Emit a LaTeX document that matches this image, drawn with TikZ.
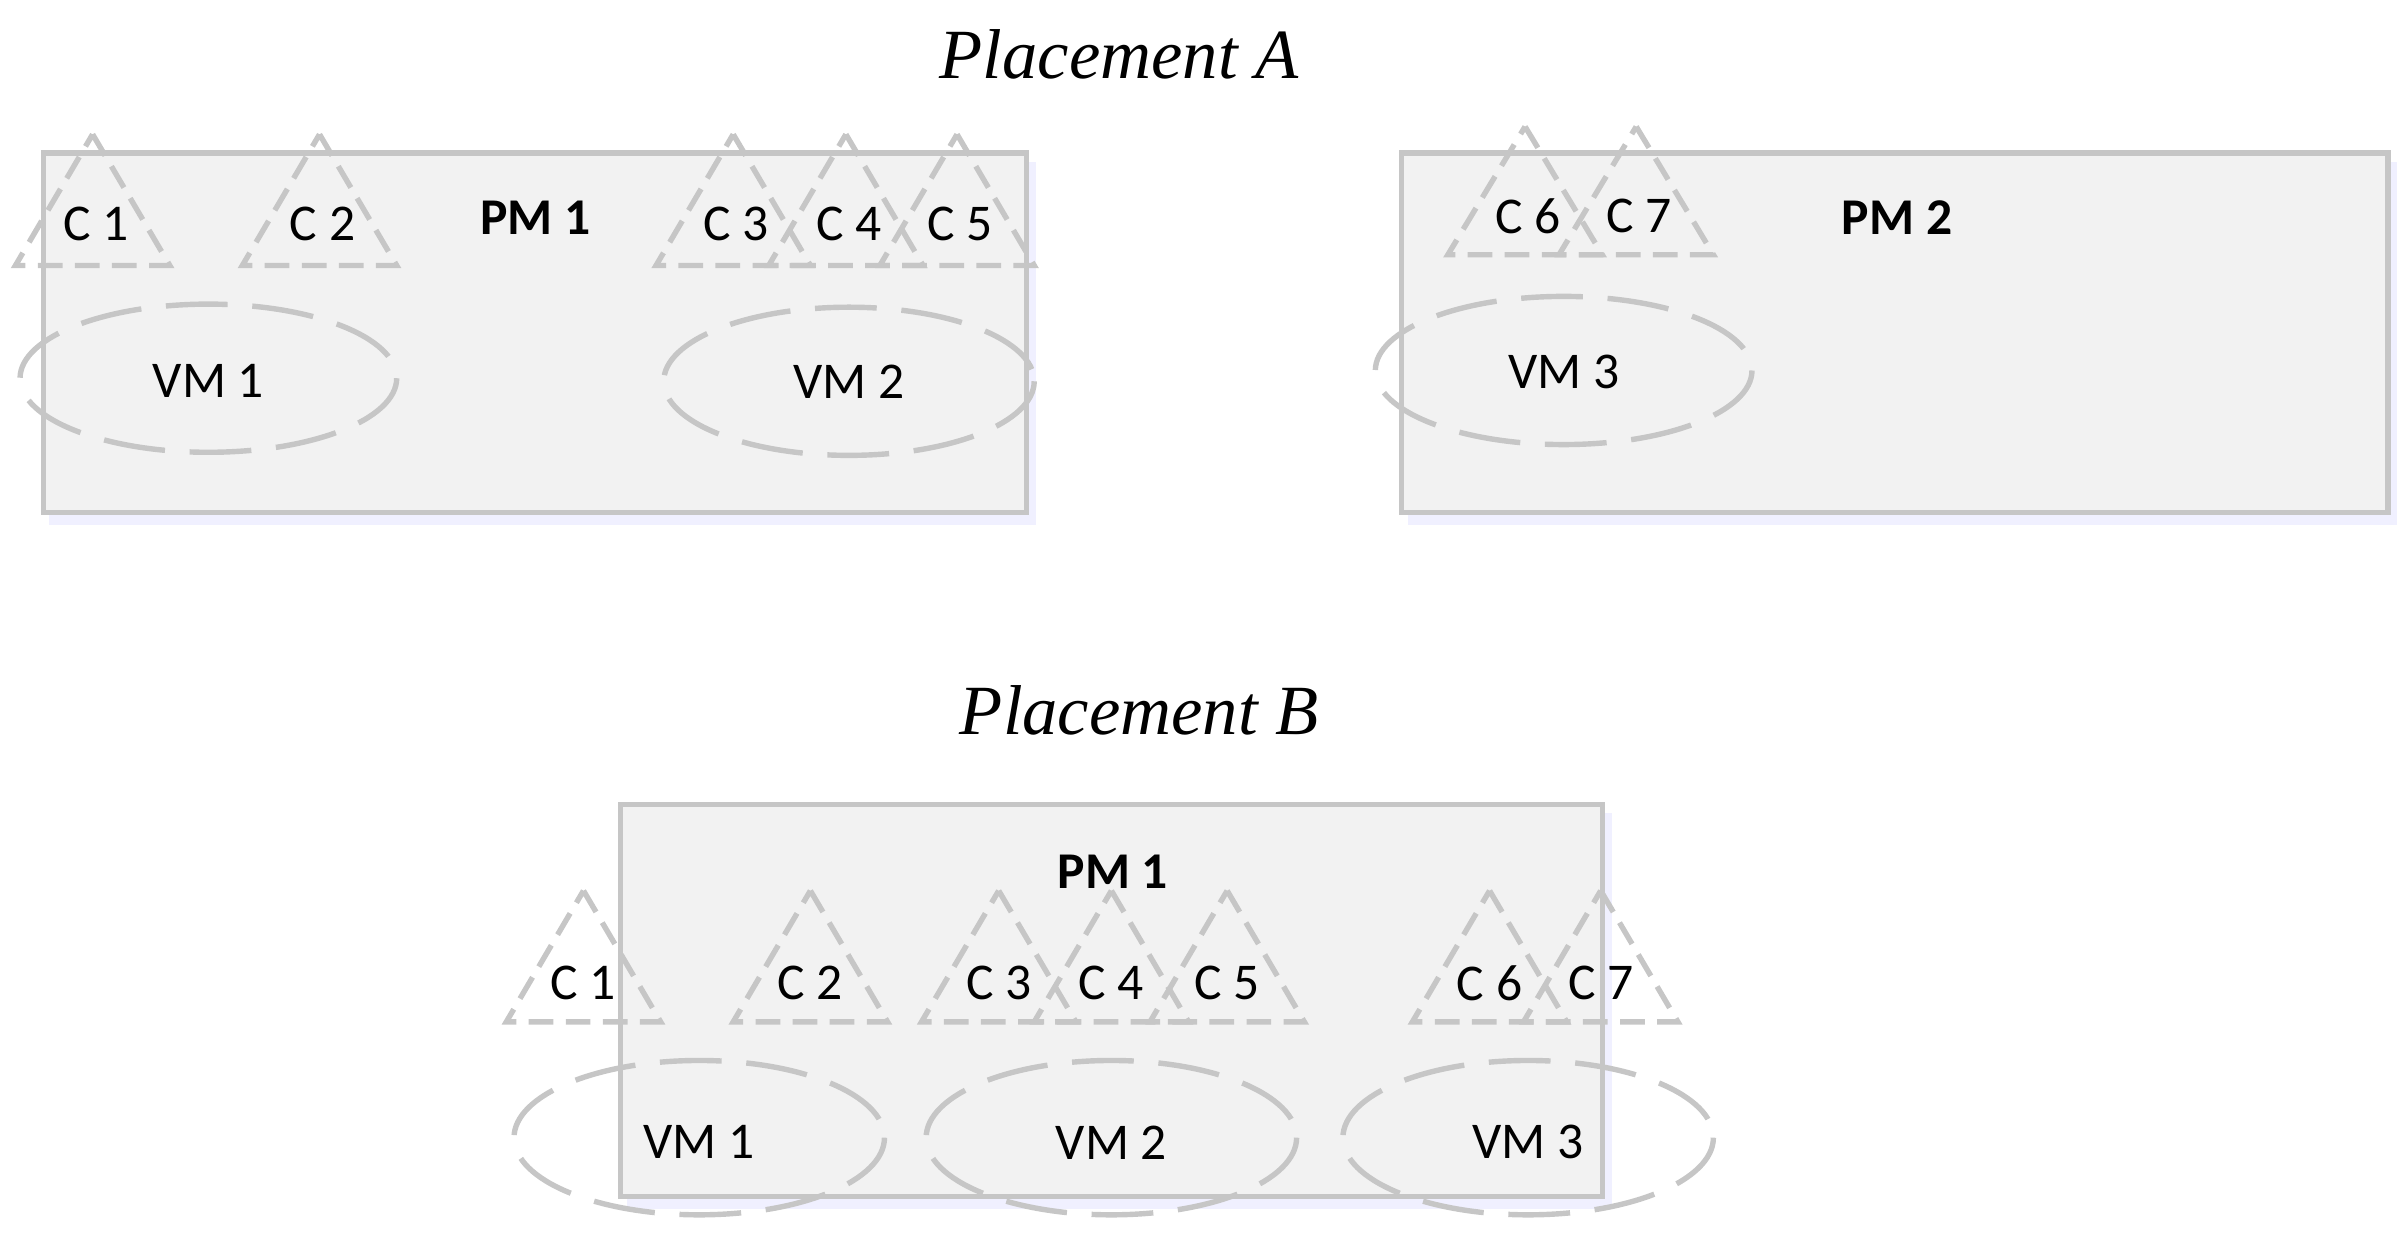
\documentclass[tikz,border=0pt]{standalone}
\usepackage{fontspec}
\setmainfont{Carlito}
\newfontfamily\titlefont{Liberation Serif}
\begin{document}
\begin{tikzpicture}[x=0.01cm, y=-0.01cm,
    pm/.style={draw=gray!45, line width=0.035cm, fill=gray!10},
    shade/.style={fill=blue!6, draw=none},
    cont/.style={draw=gray!45, line width=0.035cm, dash pattern=on 0.16cm off 0.08cm},
    vm/.style={draw=gray!45, line width=0.035cm, dash pattern=on 0.4cm off 0.16cm},
    lbl/.style={font=\fontsize{9.5}{11}\selectfont},
    pmlbl/.style={font=\fontsize{9.5}{11}\selectfont\bfseries},
    ttl/.style={font=\titlefont\itshape\fontsize{13}{15}\selectfont}]
  \useasboundingbox (0,0) rectangle (1560,799);

  % Titles
  \node[ttl] (titleA) at (725,35) {Placement A};
  \node[ttl] (titleB) at (738,460) {Placement B};

  % Physical machines
  \foreach \xa/\ya/\xb/\yb in {28/99/665/332, 908/99/1547/332, 402/521/1038/775}{
    \fill[shade] (\xa+4,\ya+6) rectangle (\xb+6,\yb+8);
    \draw[pm] (\xa,\ya) rectangle (\xb,\yb);
  }
  \node[pmlbl] (pm1a) at (347,141) {PM 1};
  \node[pmlbl] (pm2a) at (1229,141) {PM 2};
  \node[pmlbl] (pm1b) at (721,565) {PM 1};

  % Containers, placement A
  \foreach \cx/\n in {60/1, 207/2, 475/3, 548/4, 620/5}{
    \draw[cont] (\cx,87) -- (\cx+50,172) -- (\cx-50,172) -- cycle;
    \node[lbl] (ca\n) at (\cx+2,145) {C \n};
  }
  \foreach \cx/\n in {988/6, 1060/7}{
    \draw[cont] (\cx,82) -- (\cx+50,165) -- (\cx-50,165) -- cycle;
    \node[lbl] (ca\n) at (\cx+2,140) {C \n};
  }

  % Containers, placement B
  \foreach \cx/\n in {378/1, 525/2, 647/3, 720/4, 795/5, 965/6, 1037/7}{
    \draw[cont] (\cx,577) -- (\cx+50,662) -- (\cx-50,662) -- cycle;
    \node[lbl] (cb\n) at (\cx,637) {C \n};
  }

  % Virtual machines
  \draw[vm] (135,245) ellipse [x radius=122, y radius=48];
  \node[lbl] (vma1) at (135,247) {VM 1};
  \draw[vm] (550,247) ellipse [x radius=120, y radius=48];
  \node[lbl] (vma2) at (550,247) {VM 2};
  \draw[vm] (1013,240) ellipse [x radius=122, y radius=48];
  \node[lbl] (vma3) at (1013,241) {VM 3};
  \foreach \cx/\n in {453/1, 720/2, 990/3}{
    \draw[vm] (\cx,737) ellipse [x radius=120, y radius=50];
    \node[lbl] (vmb\n) at (\cx,740) {VM \n};
  }
\end{tikzpicture}
\end{document}
